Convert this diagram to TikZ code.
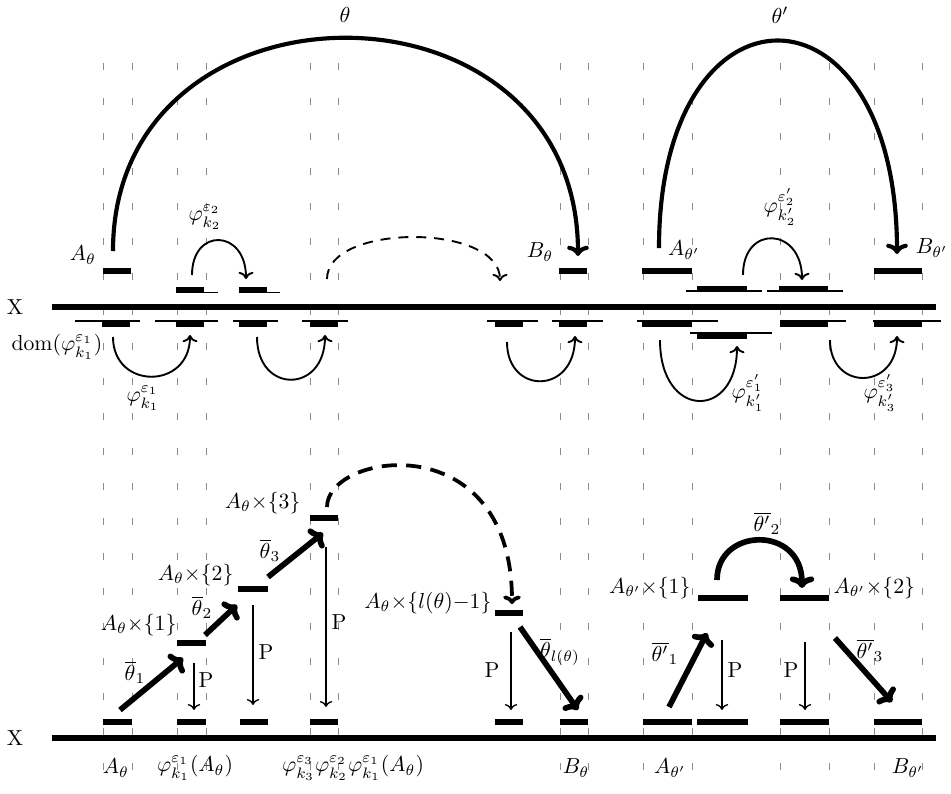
\documentclass[tikz,border=0pt]{standalone}
\usetikzlibrary{arrows.meta}
\begin{document}
\begin{tikzpicture}[x=0.53pt, y=-0.53pt, >=To,
  every node/.style={scale=1.15},
  guide/.style={black!45, line width=0.35pt, dash pattern=on 3.7pt off 14.85pt},
  axis/.style={line width=3.7pt},
  seg/.style={line width=3.6pt},
  thinseg/.style={line width=1pt},
  bigarc/.style={line width=2.2pt, -{To[scale=0.85]}},
  smallarc/.style={line width=1pt, ->},
  lift/.style={line width=3pt, -{To[scale=0.75]}},
  proj/.style={line width=0.7pt, ->},
]
  \useasboundingbox (0,0) rectangle (951,794);

  % --- 1. vertical guides ---
  \foreach \x in {103,132,177,206,310,338,560,588,643,692,780,829,874,922}
    \draw[guide] (\x,63) -- (\x,792);

  % --- 2. upper picture: X with the domains ---
  \draw[axis] (52,307) -- (936,307);
  \node (X1) at (15,307) {X};

  % pieces above X
  \foreach \a/\b in {103/131,559/587,642/692,874/922}
    \draw[seg] (\a,271) -- (\b,271);
  \foreach \t/\a/\b/\c in {176/176/204/218,239/239/267/280} {
    \draw[thinseg] (\t,292.5) -- (\c,292.5);
    \draw[seg] (\a,290) -- (\b,290);
  }
  \foreach \t/\a/\b/\c in {686/697/747/762,767/779/828/843} {
    \draw[thinseg] (\t,291) -- (\c,291);
    \draw[seg] (\a,289) -- (\b,289);
  }

  % pieces below X
  \foreach \t/\a/\b/\c in {75/102/130/140,155/176/204/218,233/239/267/278,
      302/310/338/348,487/495/523/538,552/559/587/603,637/642/692/718,
      780/780/828/846,873/874/922/941} {
    \draw[thinseg] (\t,321) -- (\c,321);
    \draw[seg] (\a,323.5) -- (\b,323.5);
  }
  \draw[thinseg] (690,333) -- (772,333);
  \draw[seg] (697,335.5) -- (747,335.5);

  % big arcs theta, theta'
  \coordinate (thS) at (113,251);
  \coordinate (thE) at (578,256);
  \coordinate (thpS) at (659,248);
  \coordinate (thpE) at (897,254);
  \draw[bigarc] (thS) .. controls +(0,-284) and +(0,-290) .. (thE);
  \draw[bigarc] (thpS) .. controls +(0,-277) and +(0,-283) .. (thpE);
  \node (lth) at (345,15) {$\theta$};
  \node (lthp) at (780,15) {$\theta'$};
  \node (Ath) at (83,255) {$A_\theta$};
  \node (Bth) at (540,252) {$B_\theta$};
  \node (Athp) at (684,250) {$A_{\theta'}$};
  \node (Bthp) at (932,248) {$B_{\theta'}$};

  % small arcs above X
  \coordinate (u1S) at (192,275);
  \coordinate (u1E) at (246,279);
  \coordinate (u2S) at (327,279);
  \coordinate (u2E) at (500,281);
  \coordinate (u3S) at (743,275);
  \coordinate (u3E) at (802,280);
  \draw[smallarc] (u1S) .. controls +(0,-48) and +(0,-50) .. (u1E);
  \draw[smallarc, dash pattern=on 5.3pt off 4.2pt] (u2S) .. controls +(0,-56) and +(0,-58) .. (u2E);
  \draw[smallarc] (u3S) .. controls +(0,-51) and +(0,-53) .. (u3E);
  \node (phi2) at (205,217) {$\varphi^{\varepsilon_2}_{k_2}$};
  \node (phip2) at (780,207) {$\varphi^{\varepsilon'_2}_{k'_2}$};

  % small arcs below X
  \coordinate (d1S) at (113,337);
  \coordinate (d1E) at (190,335);
  \coordinate (d2S) at (257,337);
  \coordinate (d2E) at (325,335);
  \coordinate (d3S) at (507,342);
  \coordinate (d3E) at (575,336);
  \coordinate (d4S) at (660,340);
  \coordinate (d4E) at (737,346);
  \coordinate (d5S) at (830,340);
  \coordinate (d5E) at (897,336);
  \draw[smallarc] (d1S) .. controls +(0,53) and +(0,55) .. (d1E);
  \draw[smallarc] (d2S) .. controls +(0,57) and +(0,59) .. (d2E);
  \draw[smallarc] (d3S) .. controls +(0,53) and +(0,59) .. (d3E);
  \draw[smallarc] (d4S) .. controls +(0,80) and +(0,74) .. (d4E);
  \draw[smallarc] (d5S) .. controls +(0,51) and +(0,55) .. (d5E);
  \node (dom) at (57,347) {dom$(\varphi^{\varepsilon_1}_{k_1})$};
  \node (phi1) at (143,398) {$\varphi^{\varepsilon_1}_{k_1}$};
  \node (phip1) at (748,393) {$\varphi^{\varepsilon'_1}_{k'_1}$};
  \node (phip3) at (880,393) {$\varphi^{\varepsilon'_3}_{k'_3}$};

  % --- 3. lower picture: the tower over X ---
  \draw[axis] (52,738) -- (936,738);
  \node (X2) at (15,738) {X};
  \foreach \a/\b in {103/132,177/206,240/268,310/338,495/523,560/588,
      643/692,697/748,780/829,874/922}
    \draw[seg] (\a,722) -- (\b,722);

  % floors
  \draw[seg] (177,643) -- (206,643);
  \draw[seg] (238,589) -- (268,589);
  \draw[seg] (310,518) -- (338,518);
  \draw[seg] (495,613) -- (523,613);
  \draw[seg] (698,598) -- (748,598);
  \draw[seg] (780,598) -- (829,598);
  \node[anchor=east, inner sep=1pt] (F1) at (179,625) {$A_\theta{\times}\{1\}$};
  \node[anchor=east, inner sep=1pt] (F2) at (236,575) {$A_\theta{\times}\{2\}$};
  \node[anchor=east, inner sep=1pt] (F3) at (303,503) {$A_\theta{\times}\{3\}$};
  \node[anchor=east, inner sep=1pt] (Fl) at (494,603) {$A_\theta{\times}\{l(\theta){-}1\}$};
  \node[anchor=east, inner sep=1pt] (G1) at (693,588) {$A_{\theta'}{\times}\{1\}$};
  \node[anchor=west, inner sep=1pt] (G2) at (831,588) {$A_{\theta'}{\times}\{2\}$};

  % lifts theta-bar
  \coordinate (t1S) at (120,710);
  \coordinate (t1E) at (183,658);
  \coordinate (t2S) at (205,635);
  \coordinate (t2E) at (237,605);
  \coordinate (t3S) at (268,577);
  \coordinate (t3E) at (323,533);
  \coordinate (tlS) at (327,507);
  \coordinate (tlE) at (512,604);
  \coordinate (tmS) at (520,627);
  \coordinate (tmE) at (578,710);
  \draw[lift] (t1S) -- (t1E);
  \draw[lift] (t2S) -- (t2E);
  \draw[lift] (t3S) -- (t3E);
  \draw[lift, line width=2pt, dash pattern=on 8pt off 5pt] (tlS) .. controls +(0,-55) and +(0,-180) .. (tlE);
  \draw[lift] (tmS) -- (tmE);
  \node (lt1) at (135,672) {$\overline{\theta}_1$};
  \node (lt2) at (202,607) {$\overline{\theta}_2$};
  \node (lt3) at (270,550) {$\overline{\theta}_3$};
  \node (ltl) at (560,652) {$\overline{\theta}_{l(\theta)}$};

  \coordinate (s1S) at (669,707);
  \coordinate (s1E) at (707,633);
  \coordinate (s2S) at (717,580);
  \coordinate (s2E) at (802,588);
  \coordinate (s3S) at (835,638);
  \coordinate (s3E) at (892,702);
  \draw[lift] (s1S) -- (s1E);
  \draw[lift] (s2S) .. controls +(0,-53) and +(0,-63) .. (s2E);
  \draw[lift] (s3S) -- (s3E);
  \node (ls1) at (665,653) {$\overline{\theta'}_1$};
  \node (ls2) at (767,523) {$\overline{\theta'}_2$};
  \node (ls3) at (870,650) {$\overline{\theta'}_3$};

  % projections P
  \foreach \n/\x/\a/\b in {1/194/663/710,2/253/605/705,3/326/547/707,
      4/511/632/710,5/722/640/710,6/805/642/710} {
    \coordinate (p\n S) at (\x,\a);
    \coordinate (p\n E) at (\x,\b);
    \draw[proj] (p\n S) -- (p\n E);
  }
  \node (P1) at (206,680) {P};
  \node (P2) at (266,652) {P};
  \node (P3) at (339,622) {P};
  \node (P4) at (492,670) {P};
  \node (P5) at (735,670) {P};
  \node (P6) at (791,670) {P};

  % names under X
  \node (nA) at (116,768) {$A_\theta$};
  \node (nB) at (195,768) {$\varphi^{\varepsilon_1}_{k_1}(A_\theta)$};
  \node (nC) at (353,768) {$\varphi^{\varepsilon_3}_{k_3}\varphi^{\varepsilon_2}_{k_2}\varphi^{\varepsilon_1}_{k_1}(A_\theta)$};
  \node (nD) at (576,768) {$B_\theta$};
  \node (nE) at (670,768) {$A_{\theta'}$};
  \node (nF) at (908,768) {$B_{\theta'}$};

\end{tikzpicture}
\end{document}
